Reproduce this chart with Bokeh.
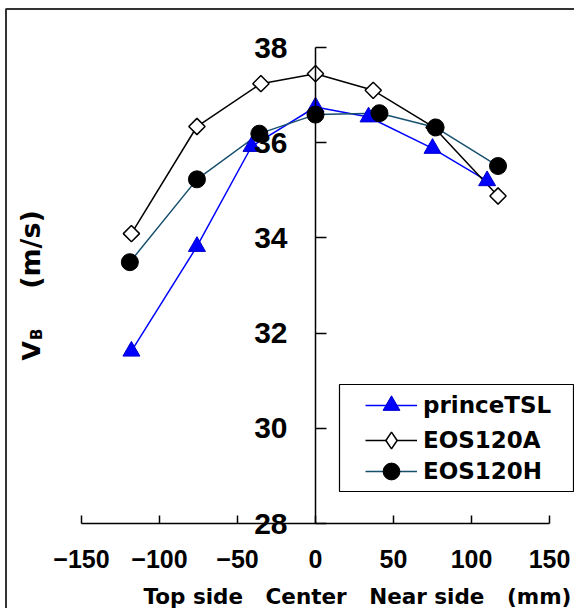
import math
from bokeh.plotting import figure
from bokeh.models import (LinearAxis, FixedTicker, Range1d, Legend, LegendItem,
                          Label, BoxAnnotation)
from bokeh.embed import file_html
from bokeh.resources import INLINE

# ---------------- data ----------------
x_ticks = [-150, -100, -50, 0, 50, 100, 150]
x_tick_labels = ["\u2212150", "\u2212100", "\u221250", "0", "50", "100", "150"]
y_ticks = [28, 30, 32, 34, 36, 38]
y_tick_labels = ["28", "30", "32", "34", "36", "38"]

series_names = ["princeTSL", "EOS120A", "EOS120H"]

prince_x = [-118, -76, -41, 0, 34, 75, 110]
prince_y = [31.62, 33.82, 35.92, 36.75, 36.54, 35.88, 35.20]

eos_a_x = [-118, -76, -35, 0, 37, 76, 117]
eos_a_y = [34.09, 36.34, 37.24, 37.45, 37.10, 36.32, 34.88]

eos_h_x = [-119, -76, -36, 0, 41, 77, 117]
eos_h_y = [33.49, 35.23, 36.19, 36.59, 36.62, 36.32, 35.51]

NB = "\u00a0"
x_label = ("Top side" + NB * 3 + "Center" + NB * 3 + "Near side" + NB * 3 + "(mm)")
y_label_main = "V"
y_label_sub = "B"
y_label_unit = "(m/s)"

# ---------------- layout ----------------
W, H = 574, 608
X0_PX, PX_PER_X = 315.0, 1.56   # canvas px of x = 0
Y28_PX, PX_PER_Y = 523.0, 47.6  # canvas px of y = 28


def dx(px):
    return (px - X0_PX) / PX_PER_X


def dy(py):
    return 28 + (Y28_PX - py) / PX_PER_Y


p = figure(width=W, height=H, x_range=Range1d(dx(0), dx(W)),
           y_range=Range1d(dy(H), dy(0)), x_axis_location=None,
           y_axis_location=None, min_border=0, toolbar_location=None,
           output_backend="svg", title=None, outline_line_color=None,
           background_fill_color="white", border_fill_color="white")
p.grid.visible = False

TICK_FONT = "Liberation Sans"
TEXT_FONT = "DejaVu Sans"

xaxis = LinearAxis(fixed_location=28, bounds=(-150, 150),
                   ticker=FixedTicker(ticks=x_ticks),
                   major_label_overrides=dict(zip(x_ticks, x_tick_labels)))
xaxis.major_tick_in = 8
xaxis.major_tick_out = 0
xaxis.minor_tick_in = 0
xaxis.minor_tick_out = 0
xaxis.major_label_standoff = 26
xaxis.axis_line_width = 1.5
xaxis.major_tick_line_width = 1.5
xaxis.major_label_text_font = TICK_FONT
xaxis.major_label_text_font_style = "bold"
xaxis.major_label_text_font_size = "25px"
xaxis.major_label_text_color = "black"
p.add_layout(xaxis, "below")

yaxis = LinearAxis(fixed_location=0, bounds=(28, 38),
                   ticker=FixedTicker(ticks=y_ticks),
                   major_label_overrides=dict(zip(y_ticks, y_tick_labels)))
yaxis.major_tick_in = 11
yaxis.major_tick_out = 0
yaxis.minor_tick_in = 0
yaxis.minor_tick_out = 0
yaxis.major_label_standoff = 28
yaxis.axis_line_width = 1.5
yaxis.major_tick_line_width = 1.5
yaxis.major_label_text_font = TICK_FONT
yaxis.major_label_text_font_style = "bold"
yaxis.major_label_text_font_size = "30px"
yaxis.major_label_text_color = "black"
p.add_layout(yaxis, "left")

BLUE = "#0000FF"
NAVY = "#17506E"

l1 = p.line(prince_x, prince_y, line_color=BLUE, line_width=1.5)
l2 = p.line(eos_a_x, eos_a_y, line_color="black", line_width=1.5)
l3 = p.line(eos_h_x, eos_h_y, line_color=NAVY, line_width=1.5)

s1 = p.scatter(prince_x, prince_y, marker="triangle", size=17,
               fill_color=BLUE, line_color="#0000CC", line_width=1)
s2 = p.scatter(eos_a_x, eos_a_y, marker="square", angle=math.pi / 4,
               size=11.5, fill_color="white", line_color="black",
               line_width=1.5)
s3 = p.scatter(eos_h_x, eos_h_y, marker="circle", size=17,
               fill_color="black", line_color="black")
# legend-only glyph for the diamond (legend markers are drawn unrotated)
s2_key = p.scatter(eos_a_x, eos_a_y, marker="diamond", size=17,
                   fill_color="white", line_color="black", line_width=1.5,
                   visible=False)

# legend frame
p.add_layout(BoxAnnotation(left=dx(339), right=dx(573), top=dy(384),
                           bottom=dy(491), fill_color="white", fill_alpha=1,
                           line_color="black", line_alpha=1, line_dash="solid",
                           line_width=1.2))

# one legend per row so the keys keep their full marker size
legend_rows = [(series_names[0], [l1, s1], 405),
               (series_names[1], [l2, s2_key], 440),
               (series_names[2], [l3, s3], 471)]
GLYPH_H = 42
for name, rends, row_center in legend_rows:
    lg = Legend(items=[LegendItem(label=name, renderers=rends)],
                location=(365, H - (row_center + GLYPH_H / 2)),
                padding=0, spacing=0, margin=0,
                glyph_width=52, glyph_height=GLYPH_H, label_standoff=6,
                border_line_color=None, background_fill_alpha=0,
                inactive_fill_alpha=0,
                label_text_font=TEXT_FONT, label_text_font_style="bold",
                label_text_font_size="23px", label_text_color="black")
    p.add_layout(lg)

# outer chart border
p.add_layout(BoxAnnotation(left=dx(5.5), top=dy(8.5), right=dx(W + 60),
                           bottom=dy(H + 60), fill_alpha=0,
                           line_color="#333333", line_alpha=1,
                           line_dash="solid", line_width=2))

# axis titles
p.add_layout(Label(x=dx(143), y=dy(596), text=x_label, text_font=TEXT_FONT,
                   text_font_style="bold", text_font_size="21.5px",
                   text_align="left", text_baseline="middle",
                   text_color="black"))
p.add_layout(Label(x=dx(31), y=dy(360), text=y_label_main, angle=math.pi / 2,
                   text_font=TEXT_FONT, text_font_style="bold",
                   text_font_size="25px", text_align="left",
                   text_baseline="middle", text_color="black"))
p.add_layout(Label(x=dx(36), y=dy(339.5), text=y_label_sub, angle=math.pi / 2,
                   text_font=TEXT_FONT, text_font_style="bold",
                   text_font_size="15px", text_align="left",
                   text_baseline="middle", text_color="black"))
p.add_layout(Label(x=dx(30), y=dy(249), text=y_label_unit, angle=math.pi / 2,
                   text_font=TEXT_FONT, text_font_style="bold",
                   text_font_size="27px", text_align="center",
                   text_baseline="middle", text_color="black"))

open("out.html", "w").write(file_html(p, INLINE))
